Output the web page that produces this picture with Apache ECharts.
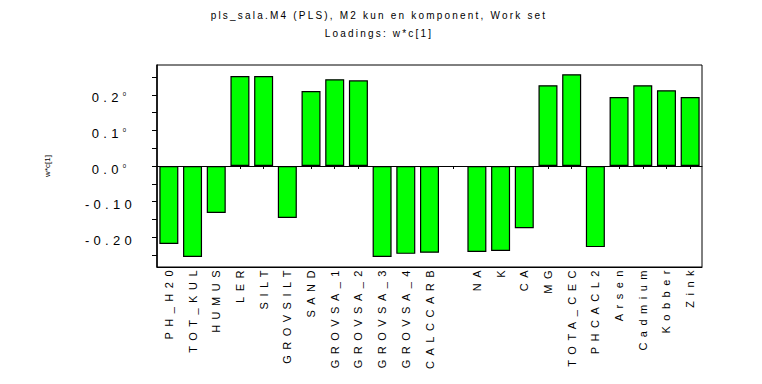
<!DOCTYPE html>
<html><head><meta charset="utf-8">
<script src="https://cdn.jsdelivr.net/npm/echarts@6/dist/echarts.min.js"></script>
<style>
html,body{margin:0;padding:0;background:#fff}
#c{width:762px;height:384px}
#c text[style*="10px"]{letter-spacing:0.22em}
#c text[style*="11px"]{letter-spacing:0.5em}
#c text[style*="13px"]{letter-spacing:0.33em}
</style></head><body><div id="c"></div>
<script>
const titleText = 'pls_sala.M4 (PLS), M2 kun en komponent, Work set';
const subtitleText = 'Loadings: w*c[1]';
const yAxisName = 'w*c[1]';
const categories = ['PH_H20','TOT_KUL','HUMUS','LER','SILT','GROVSILT','SAND','GROVSA_1','GROVSA_2','GROVSA_3','GROVSA_4','CALCCARB','','NA','K','CA','MG','TOTA_CEC','PHCACL2','Arsen','Cadmium','Kobber','Zink'];
const loadings = [-0.219,-0.256,-0.132,0.253,0.253,-0.146,0.211,0.244,0.241,-0.256,-0.247,-0.244,null,-0.242,-0.239,-0.175,0.227,0.258,-0.228,0.194,0.227,0.213,0.194];
const yTickValues = [-0.25,-0.2,-0.15,-0.1,-0.05,0,0.05,0.1,0.15,0.2,0.25];
const yLabelValues = [-0.2,-0.1,0,0.1,0.2];

const FONT = 'Liberation Sans';
const chart = echarts.init(document.getElementById('c'), null, {renderer: 'svg'});
chart.setOption({
  animation: false,
  backgroundColor: '#fff',
  title: {
    text: titleText, subtext: subtitleText,
    left: 374, top: 4, textAlign: 'center', itemGap: 6,
    textStyle: {fontFamily: FONT, fontSize: 10, fontWeight: 'normal', color: '#000', lineHeight: 12},
    subtextStyle: {fontFamily: FONT, fontSize: 10, color: '#000', lineHeight: 12}
  },
  grid: {left: 157, right: 60, top: 65, bottom: 117, show: true, borderColor: '#000', borderWidth: 1, containLabel: false},
  xAxis: [{
    type: 'category', data: categories, position: 'bottom',
    axisLine: {onZero: false, lineStyle: {color: '#000', width: 1}},
    axisTick: {show: false},
    axisLabel: {interval: 0, rotate: 90, margin: -2, color: '#000', fontFamily: FONT, fontSize: 11}
  }, {
    type: 'category', data: categories, position: 'top',
    axisLine: {onZero: true, lineStyle: {color: '#000', width: 1}},
    axisTick: {show: true, inside: true, length: 3, alignWithLabel: true, interval: 0, lineStyle: {color: '#000'}},
    axisLabel: {show: false}
  }],
  yAxis: {
    type: 'value', min: -0.284, max: 0.284,
    name: yAxisName, nameLocation: 'middle', nameGap: 106, nameRotate: 90,
    nameTextStyle: {fontFamily: FONT, fontSize: 8, color: '#000'},
    axisLine: {show: true, lineStyle: {color: '#000', width: 1.5}},
    axisTick: {show: true, length: 5, customValues: yTickValues, lineStyle: {color: '#000'}},
    splitLine: {show: false},
    axisLabel: {
      customValues: yLabelValues, margin: 21, color: '#000', fontFamily: FONT, fontSize: 13,
      padding: [6, 0, 0, 0],
      formatter: function (v) {
        if (v >= 0) return '{a|' + v.toFixed(1) + '}{s|0}';
        return v.toFixed(2);
      },
      rich: {
        a: {fontFamily: FONT, fontSize: 13, color: '#000', align: 'right'},
        s: {fontFamily: FONT, fontSize: 6, color: '#000', align: 'right', verticalAlign: 'top', padding: [0, 10, 0, 0]}
      }
    }
  },
  series: [{
    type: 'bar', data: loadings, xAxisIndex: 0, barWidth: 19,
    itemStyle: {color: '#00ff00', borderColor: '#000', borderWidth: 1.2}
  }]
});
</script></body></html>
